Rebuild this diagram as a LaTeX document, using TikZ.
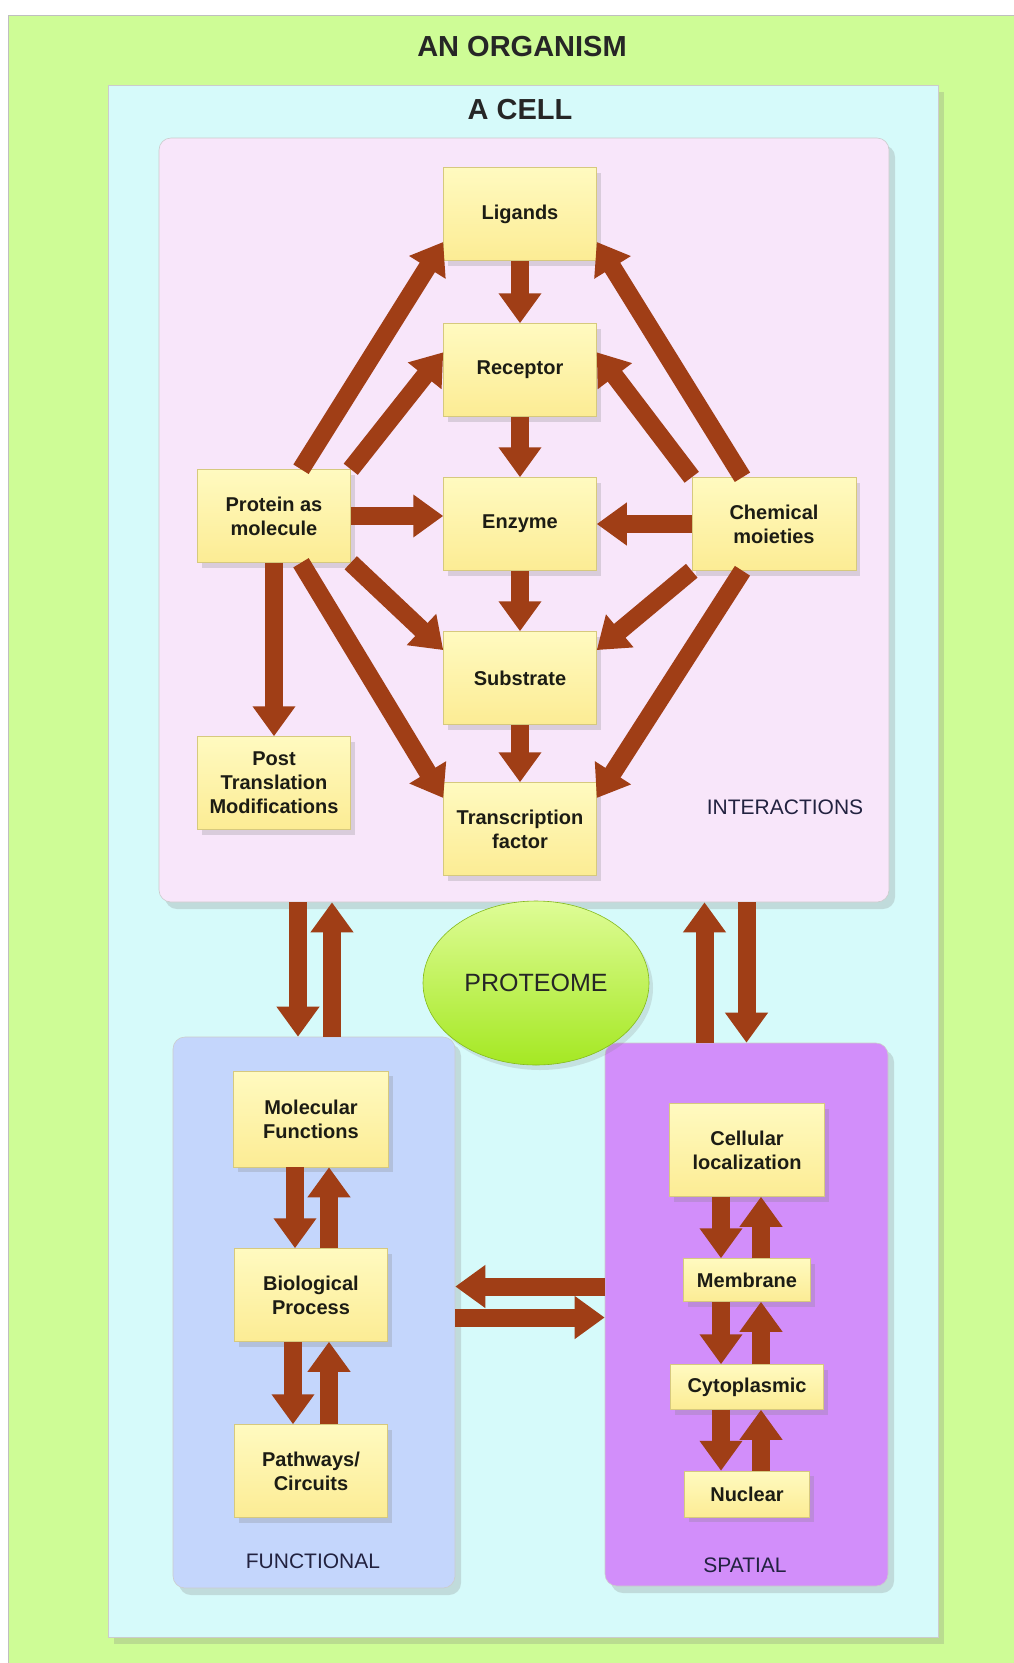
\documentclass[tikz,border=0pt]{standalone}
\usepackage{fontspec}
\setmainfont{Liberation Sans}
\usetikzlibrary{arrows.meta, positioning, calc, shadows, shapes.geometric}

\definecolor{organism}{RGB}{206,252,150}
\definecolor{cellfill}{RGB}{214,250,250}
\definecolor{interaction}{RGB}{248,230,250}
\definecolor{functional}{RGB}{196,214,252}
\definecolor{spatial}{RGB}{210,142,250}
\definecolor{boxtop}{RGB}{255,250,192}
\definecolor{boxbottom}{RGB}{252,236,148}
\definecolor{flowbrown}{RGB}{160,62,22}
\definecolor{tagink}{RGB}{34,34,64}
\definecolor{boxink}{RGB}{28,28,20}
\definecolor{limetop}{RGB}{222,252,150}
\definecolor{limebottom}{RGB}{165,232,35}

\begin{document}
\begin{tikzpicture}[
    x=1pt,
    y=-1pt,
    on grid,
    flow/.style={color=flowbrown, line width=18pt, -{Triangle[width=41pt, length=30pt]}},
    item/.style={rectangle, top color=boxtop, bottom color=boxbottom, draw=boxbottom!85!black, line width=0.5pt,
        minimum width=153pt, minimum height=93pt, inner sep=2pt, align=center, text=boxink,
        font=\fontsize{20}{24}\selectfont\bfseries,
        drop shadow={opacity=0.25, shadow xshift=4pt, shadow yshift=-5pt}},
    panel/.style={rectangle, rounded corners=12pt, draw=gray!40, line width=0.6pt,
        drop shadow={opacity=0.25, shadow xshift=6pt, shadow yshift=-7pt}},
    heading/.style={font=\fontsize{29}{34}\selectfont\bfseries, text=black!85},
    tag/.style={font=\fontsize{21}{25}\selectfont, text=tagink},
]

    \useasboundingbox[fill=white] (0,0) rectangle (1014,1663);

    % frames
    \node[rectangle, fill=organism, draw=gray!50, minimum width=1006pt, minimum height=1648pt] (org) at (511,839) {};
    \node[panel, rounded corners=0pt, fill=cellfill, minimum width=830pt, minimum height=1552pt] (cell) at (523,861) {};
    \node[panel, fill=interaction, minimum width=730pt, minimum height=764pt] (I) at (524,520) {};
    \node[panel, fill=functional, minimum width=282pt, minimum height=551pt] (F) at (314,1312.5) {};
    \node[panel, fill=spatial, minimum width=283pt, minimum height=543pt] (S) at (746.5,1314.5) {};

    \node[heading] (organismtitle) at (522,47) {AN ORGANISM};
    \node[heading] (celltitle) at (520,110) {A CELL};

    % interactions
    \node[item] (L) at (520,214) {Ligands};
    \node[item, below=156pt of L] (R) {Receptor};
    \node[item, below=154pt of R] (E) {Enzyme};
    \node[item, below=154pt of E] (Sub) {Substrate};
    \node[item, below=151pt of Sub] (T) {Transcription\\factor};
    \node[item] (P) at (274,516) {Protein as\\molecule};
    \node[item, minimum width=164pt, right=254pt of E] (C) {Chemical\\moieties};
    \node[item, below=267pt of P] (PTM) {Post\\Translation\\Modifications};
    \node[tag] (interactions) at (785,807) {INTERACTIONS};

    % functional
    \node[item, minimum width=155pt, minimum height=96pt] (MF) at (311,1119) {Molecular\\Functions};
    \node[item, below=176pt of MF] (BP) {Biological\\Process};
    \node[item, below=176pt of BP] (PC) {Pathways/\\Circuits};
    \node[tag] (functionaltag) at (313,1561) {FUNCTIONAL};

    % spatial
    \node[item, minimum width=155pt] (CL) at (747,1150) {Cellular\\localization};
    \node[item, minimum width=127pt, minimum height=43pt, below=130pt of CL] (M) {Membrane};
    \node[item, minimum height=45pt, below=107pt of M] (Cy) {Cytoplasmic};
    \node[item, minimum width=125pt, minimum height=46pt, below=107pt of Cy] (N) {Nuclear};
    \node[tag] (spatialtag) at (745,1565) {SPATIAL};

    \path[flow]
        (L.south)      edge (R.north)
        (R.south)      edge (E.north)
        (E.south)      edge (Sub.north)
        (Sub.south)    edge (T.north)
        (P.60)         edge (L.200)
        (P.north east) edge (R.167)
        (P.east)       edge (P.east -| E.west)
        (P.south east) edge (Sub.160)
        (P.300)        edge (T.158)
        (P.south)      edge (PTM.north)
        (C.124)        edge (L.340)
        (C.north west) edge (R.13)
        (C.west)       edge (C.west -| E.east)
        (C.south west) edge (Sub.20)
        (C.236)        edge (T.22)
    ;

    \path[flow]
        ($(F.north |- I.south)+(-16,0)$) edge ($(F.north)+(-16,0)$)
        ($(F.north)+(18,0)$)             edge ($(F.north |- I.south)+(18,0)$)
        ($(S.north)+(-42,0)$)            edge ($(S.north |- I.south)+(-42,0)$)
        (S.north |- I.south)             edge (S.north)
        ($(S.west)+(0,-28)$)             edge ($(F.east)+(0,-26)$)
        ($(F.east)+(0,5)$)               edge ($(S.west)+(0,3)$)
        ([xshift=-16pt]MF.south) edge ([xshift=-16pt]BP.north)
        ([xshift=18pt]BP.north)  edge ([xshift=18pt]MF.south)
        ([xshift=-18pt]BP.south) edge ([xshift=-18pt]PC.north)
        ([xshift=18pt]PC.north)  edge ([xshift=18pt]BP.south)
        ([xshift=-26pt]CL.south) edge ([xshift=-26pt]M.north)
        ([xshift=14pt]M.north)   edge ([xshift=14pt]CL.south)
        ([xshift=-26pt]M.south)  edge ([xshift=-26pt]Cy.north)
        ([xshift=14pt]Cy.north)  edge ([xshift=14pt]M.south)
        ([xshift=-26pt]Cy.south) edge ([xshift=-26pt]N.north)
        ([xshift=14pt]N.north)   edge ([xshift=14pt]Cy.south)
    ;

    \node[ellipse, minimum width=226pt, minimum height=164pt, top color=limetop, bottom color=limebottom,
          draw=limebottom!80!black, line width=0.6pt, font=\fontsize{25}{30}\selectfont, text=black!85,
          drop shadow={opacity=0.2, shadow xshift=4pt, shadow yshift=-5pt}] (proteome) at (536,983) {PROTEOME};
\end{tikzpicture}
\end{document}
